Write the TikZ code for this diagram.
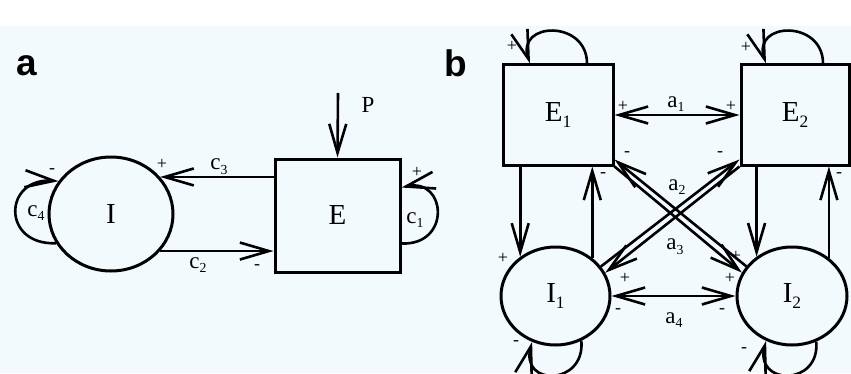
\documentclass[tikz,border=0pt]{standalone}
\usepackage{fontspec}
\setmainfont{Liberation Serif}
\newfontfamily\panelfont{Liberation Sans}
\usetikzlibrary{arrows.meta,shapes.geometric}

\definecolor{papertint}{RGB}{243,250,254}

% low-set index, as in E_1
\newcommand{\idx}[1]{\raisebox{-0.45ex}{\fontsize{0.6em}{0.7em}\selectfont #1}}

\tikzset{
  excit/.style={draw, rectangle, line width=3pt, inner sep=0pt,
    font=\fontsize{29}{33}\selectfont},
  inhib/.style={draw, ellipse, line width=3pt, inner sep=0pt,
    font=\fontsize{29}{33}\selectfont},
  link/.style={line width=2.6pt, -{Straight Barb[length=29pt,width=17pt]}},
  twoway/.style={line width=2.6pt,
    {Straight Barb[length=29pt,width=17pt]}-{Straight Barb[length=29pt,width=17pt]}},
  coef/.style={font=\fontsize{23}{27}\selectfont, inner sep=0pt},
  sign/.style={font=\fontsize{18}{20}\selectfont, inner sep=0pt},
  panel/.style={font=\panelfont\bfseries\fontsize{37}{40}\selectfont,
    anchor=base, inner sep=0pt}
}

\begin{document}
\begin{tikzpicture}[x=1pt,y=1pt]
  \useasboundingbox (0,0) rectangle (851,373);
  \clip (0,0) rectangle (851,373);
  \fill[papertint] (0,0) rectangle (851,347);

  % ---- panel a : single E/I pair ----
  \node[panel] (pa) at (27,297) {a};

  \node[inhib, minimum width=124pt, minimum height=114pt] (I) at (111,159) {I};
  \node[excit, minimum width=125pt, minimum height=113pt] (E) at (337.5,157.5) {E};
  \coordinate (P) at (338,280);

  % input P
  \draw[link] (P) -- (E.north);
  \node[coef] (lP) at (368,268) {P};

  % E to I and back
  \draw[link] (I.37 -| E.west) -- (I.37);
  \draw[link] (I.-37) -- (I.-37 -| E.west);
  \node[coef] (lc3) at (219,206) {c\idx{3}};
  \node[coef] (lc2) at (198,108) {c\idx{2}};

  % self loops
  \draw[link] (I.208) .. controls +(-55,-2) and +(-55,4) .. (I.148);
  \draw[link] ([yshift=-28pt]E.east) .. controls +(50,-2) and +(45,10) .. ([yshift=28pt]E.east);
  \node[coef] (lc4) at (36,160) {c\idx{4}};
  \node[coef] (lc1) at (415,153) {c\idx{1}};

  \foreach \x/\y/\s [count=\i] in {162/209/+, 257/106/-, 52/202/-, 417/201/+}
    \node[sign] (sa\i) at (\x,\y) {\s};

  % ---- panel b : two coupled pairs ----
  \node[panel] (pb) at (456,296) {b};

  \node[excit, minimum width=110pt, minimum height=100pt] (E1) at (558,258) {E\idx{1}};
  \node[excit, minimum width=108pt, minimum height=100pt] (E2) at (795,258) {E\idx{2}};
  \node[inhib, minimum width=109pt, minimum height=98pt] (I1) at (555.5,77) {I\idx{1}};
  \node[inhib, minimum width=110pt, minimum height=98pt] (I2) at (792,77) {I\idx{2}};

  % self loops
  \draw[link] ([xshift=29pt]E1.north) .. controls +(0,44) and +(-14,42) .. ([xshift=-28pt]E1.north);
  \draw[link] ([xshift=28pt]E2.north) .. controls +(0,44) and +(-14,42) .. ([xshift=-29pt]E2.north);
  \draw[link] (I1.-60) .. controls +(4,-45) and +(-12,-45) .. (I1.-117);
  \draw[link] (I2.-62) .. controls +(4,-45) and +(-12,-45) .. (I2.-120);

  % within each pair
  \draw[link] (I1.132 |- E1.south) -- (I1.132);
  \draw[link] (I1.46) -- (I1.46 |- E1.south);
  \draw[link] (I2.132 |- E2.south) -- (I2.132);
  \draw[link] (I2.46) -- (I2.46 |- E2.south);

  % between the pairs
  \draw[twoway] (E1.east) -- (E2.west);
  \draw[twoway] (I1.east) -- (I2.west);
  \draw[link] (E1.south east) -- (I2.155);
  \draw[link] (I2.147) -- ([yshift=7pt]E1.south east);
  \draw[link] (E2.south west) -- (I1.25);
  \draw[link] (I1.33) -- ([yshift=7pt]E2.south west);

  \node[coef] (la1) at (676,269) {a\idx{1}};
  \node[coef] (la2) at (677,186) {a\idx{2}};
  \node[coef] (la3) at (675,126) {a\idx{3}};
  \node[coef] (la4) at (674,53) {a\idx{4}};

  \foreach \x/\y/\s [count=\i] in {512/327/+, 746/326/+, 623/267/+, 731/267/+,
      627/219/-, 720/219/-, 603/198/-, 839/198/-, 503/115/+, 625/95/+,
      736/117/+, 730/95/+, 618/62/-, 722/62/-, 516/30/-, 744/23/-}
    \node[sign] (sb\i) at (\x,\y) {\s};
\end{tikzpicture}
\end{document}
